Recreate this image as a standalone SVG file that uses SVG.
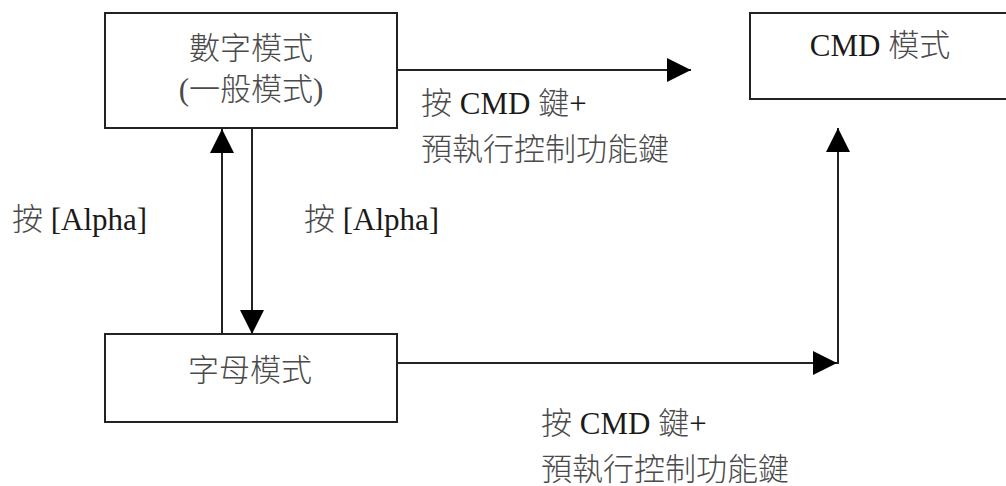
<svg xmlns="http://www.w3.org/2000/svg" width="1006" height="486" viewBox="0 0 1006 486">
<defs>
<style>
.box{fill:#fff;stroke:#222;stroke-width:2}
.ln{fill:none;stroke:#222;stroke-width:2}
.t{font-family:'Liberation Serif','Noto Sans CJK TC',serif;font-size:31px;fill:#1a1a1a}
.k{fill:#4a4a4a;font-weight:300}
.c{text-anchor:middle}
</style>
<marker id="ah" viewBox="0 0 24 24" refX="24" refY="12" markerWidth="24" markerHeight="24" markerUnits="userSpaceOnUse" orient="auto">
<path d="M0,0 L24,12 L0,24 Z" fill="#000"/>
</marker>
</defs>
<rect width="1006" height="486" fill="#fff"/>
<g id="connectors">
<line class="ln" x1="397" y1="70" x2="691" y2="70" marker-end="url(#ah)"/>
<line class="ln" x1="222" y1="334" x2="222" y2="129" marker-end="url(#ah)"/>
<line class="ln" x1="252" y1="128" x2="252" y2="334" marker-end="url(#ah)"/>
<line class="ln" x1="397" y1="363" x2="837" y2="363" marker-end="url(#ah)"/>
<line class="ln" x1="838" y1="364" x2="838" y2="128" marker-end="url(#ah)"/>
</g>
<g id="node-numeric">
<rect class="box" x="105" y="13" width="292" height="115"/>
<text class="t c" x="251" y="59"><tspan class="k">數字模式</tspan></text>
<text class="t c" x="251" y="100"><tspan class="k">(一般模式)</tspan></text>
</g>
<g id="node-cmd">
<rect class="box" x="750" y="13" width="270" height="86"/>
<text class="t c" x="880" y="56">CMD <tspan class="k">模式</tspan></text>
</g>
<g id="node-alpha">
<rect class="box" x="105" y="334" width="292" height="88"/>
<text class="t c" x="250" y="381"><tspan class="k">字母模式</tspan></text>
</g>
<g id="labels">
<text class="t" x="12" y="230"><tspan class="k">按</tspan> [Alpha]</text>
<text class="t" x="304" y="230"><tspan class="k">按</tspan> [Alpha]</text>
<text class="t" x="421" y="114"><tspan class="k">按</tspan> CMD <tspan class="k">鍵</tspan>+</text>
<text class="t" x="421" y="160"><tspan class="k">預執行控制功能鍵</tspan></text>
<text class="t" x="541" y="434"><tspan class="k">按</tspan> CMD <tspan class="k">鍵</tspan>+</text>
<text class="t" x="541" y="480"><tspan class="k">預執行控制功能鍵</tspan></text>
</g>
</svg>
